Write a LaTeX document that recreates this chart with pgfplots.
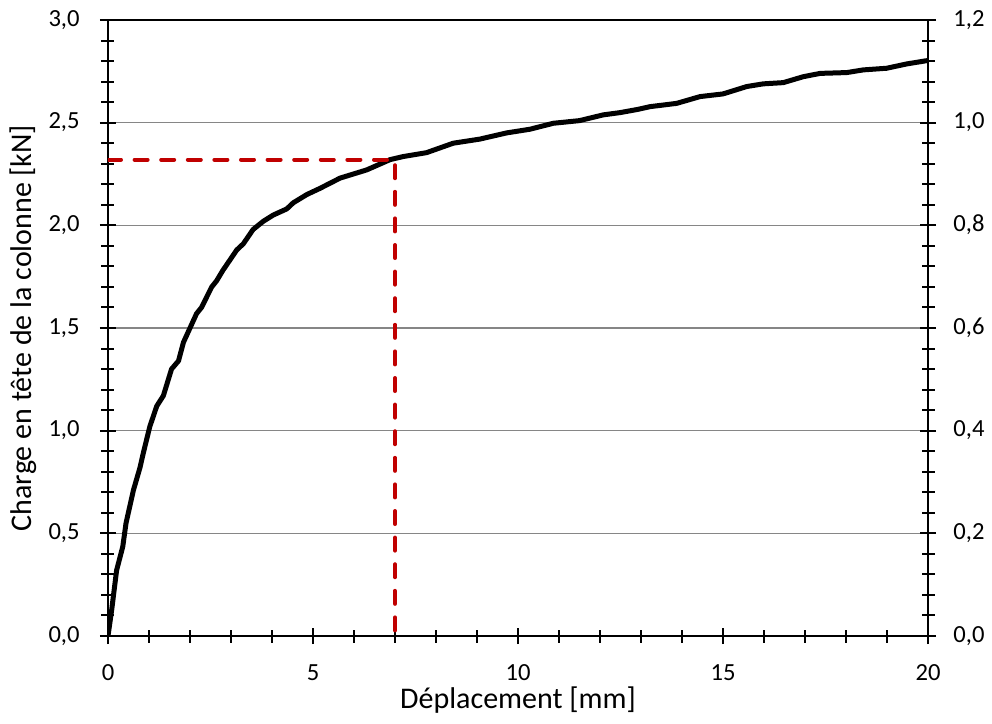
\documentclass[border=0pt]{standalone}
\usepackage{pgfplots}
\pgfplotsset{compat=1.18}
\usepackage{fontspec}
\setmainfont{Carlito}
\definecolor{gridgray}{RGB}{134,134,134}
\definecolor{darkred}{RGB}{192,0,0}
\pgfplotsset{
  common/.style={
    at={(0,0)}, anchor=south west,
    scale only axis, width=410bp, height=308bp,
    xmin=0, xmax=20,
    tick align=center,
    major tick length=8bp, minor tick length=6.5bp,
    every tick/.style={black, line width=1bp},
    axis line style={black, line width=1bp},
    tick label style={font=\fontsize{12.3bp}{14bp}\selectfont, /pgf/number format/assume math mode=true},
    label style={font=\fontsize{15bp}{18bp}\selectfont},
    yticklabel style={anchor=east, inner sep=0pt, text height=0.63em, text depth=0pt,
      /pgf/number format/fixed, /pgf/number format/fixed zerofill,
      /pgf/number format/precision=1, /pgf/number format/use comma},
  }
}
\begin{document}
\begin{tikzpicture}
\useasboundingbox (-54bp,-44bp) rectangle (442bp,318bp);
\begin{axis}[common,
  ymin=0, ymax=3,
  xtick={0,5,10,15,20}, minor x tick num=4,
  ytick={0,0.5,1,1.5,2,2.5,3}, minor y tick num=4,
  xtick pos=bottom, ytick pos=left,
  ymajorgrids, grid style={gridgray, line width=0.8bp},
  xticklabel style={anchor=north, inner sep=0pt, text height=0.63em, text depth=0pt, yshift=-12bp},
  yticklabel style={xshift=-10bp},
  xlabel={Déplacement [mm]},
  ylabel={Charge en tête de la colonne [kN]},
  xlabel style={at={(axis description cs:0.5,-0.1169)}, anchor=base},
  ylabel style={at={(axis description cs:-0.0927,0.5)}, anchor=base},
]
\addplot[black, line width=2.5bp, line join=round, line cap=round] coordinates {
(0,0) (0.09,0.127) (0.21,0.32) (0.36,0.435) (0.44,0.55) (0.62,0.71) (0.78,0.82)
(0.86,0.89) (1.02,1.02) (1.19,1.12) (1.35,1.17) (1.55,1.30) (1.72,1.34) (1.84,1.43)
(2.0,1.50) (2.16,1.57) (2.28,1.60) (2.53,1.70) (2.65,1.73) (2.8,1.78) (3.14,1.88)
(3.3,1.91) (3.54,1.98) (3.79,2.02) (4.03,2.05) (4.36,2.08) (4.52,2.11) (4.85,2.15)
(5.17,2.18) (5.66,2.23) (6.31,2.27) (6.88,2.32) (7.2,2.335) (7.77,2.354) (8.42,2.40)
(9.07,2.42) (9.72,2.45) (10.29,2.468) (10.86,2.497) (11.5,2.51) (12.08,2.538)
(12.49,2.549) (12.93,2.565) (13.22,2.578) (13.87,2.594) (14.44,2.627) (15.0,2.64)
(15.58,2.676) (15.98,2.689) (16.47,2.695) (16.96,2.724) (17.37,2.74) (18.02,2.744)
(18.42,2.757) (18.99,2.765) (19.48,2.786) (19.97,2.802)
};
\addplot[darkred, line width=2bp, line cap=round, dash pattern=on 6.5bp off 6.8bp] coordinates {
(0,2.32) (7,2.32) (7,0)
};
\end{axis}
\begin{axis}[common,
  ymin=0, ymax=1.2,
  hide x axis,
  axis y line*=right,
  ytick={0,0.2,0.4,0.6,0.8,1.0,1.2}, minor y tick num=4,
  yticklabel style={anchor=west, xshift=8.5bp},
]
\end{axis}
\end{tikzpicture}
\end{document}
